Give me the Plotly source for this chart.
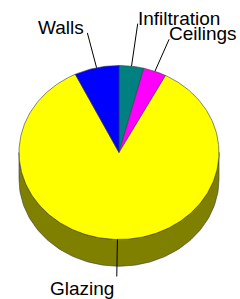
import numpy as np
import plotly.graph_objects as go

categories = ["Infiltration", "Ceilings", "Glazing", "Walls"]
values = [4.0, 3.7, 85.1, 7.2]
top_colors = ["#008080", "#FF00FF", "#FFFF00", "#0000FF"]
side_colors = ["#004040", "#800080", "#808000", "#000080"]
leader_len_px = [43, 35, 37, 36]

W, H = 240, 299
SCALE = 100.0          # pixels per unit
CX_PX, CY_PX = 119, 152.5
RY = 0.87              # ellipse vertical ratio (tilt)
DEPTH = 0.267          # thickness
EDGE = "#3a3a3a"

total = float(sum(values))
bounds = np.concatenate([[0.0], np.cumsum(values)]) / total * 2 * np.pi


def ex(t):
    return np.sin(t)


def ey(t):
    return RY * np.cos(t)


fig = go.Figure()

# side walls (front half, pi/2 .. 3pi/2)
for i, cat in enumerate(categories):
    a0 = max(bounds[i], np.pi / 2)
    a1 = min(bounds[i + 1], 3 * np.pi / 2)
    if a1 <= a0:
        continue
    t = np.linspace(a0, a1, 120)
    xs = np.concatenate([ex(t), ex(t[::-1])])
    ys = np.concatenate([ey(t), ey(t[::-1]) - DEPTH])
    fig.add_trace(go.Scatter(x=np.append(xs, xs[0]), y=np.append(ys, ys[0]),
                             mode="lines", fill="toself", fillcolor=side_colors[i],
                             line=dict(color=EDGE, width=0.6), hoverinfo="skip",
                             showlegend=False))

# top face slices
for i, cat in enumerate(categories):
    n = max(int((bounds[i + 1] - bounds[i]) / (2 * np.pi) * 400), 8)
    t = np.linspace(bounds[i], bounds[i + 1], n)
    xs = np.concatenate([[0.0], ex(t), [0.0]])
    ys = np.concatenate([[0.0], ey(t), [0.0]])
    fig.add_trace(go.Scatter(x=xs, y=ys, mode="lines", fill="toself",
                             fillcolor=top_colors[i],
                             line=dict(color=EDGE, width=0.6),
                             name=cat, hoverinfo="name", showlegend=False))

# leader lines and labels
for i, cat in enumerate(categories):
    m = (bounds[i] + bounds[i + 1]) / 2
    sx, sy = ex(m), ey(m)
    d = np.hypot(sx, sy)
    L = leader_len_px[i] / SCALE
    tx, ty = sx + sx / d * L, sy + sy / d * L
    fig.add_trace(go.Scatter(x=[sx, tx], y=[sy, ty], mode="lines",
                             line=dict(color="#000000", width=1),
                             hoverinfo="skip", showlegend=False))
    left = tx < 0
    top = ty > 0
    fig.add_annotation(x=tx, y=ty, xref="x", yref="y", text=cat, showarrow=False,
                       xanchor="right" if left else "left",
                       yanchor="bottom" if top else "top",
                       xshift=-1 if left else -2,
                       yshift=-7 if top else 0,
                       font=dict(family="Liberation Sans, Arial, sans-serif",
                                 size=19, color="#000000"))

fig.update_layout(
    width=W, height=H, autosize=False,
    margin=dict(l=0, r=0, t=0, b=0),
    paper_bgcolor="white", plot_bgcolor="white",
    xaxis=dict(range=[-CX_PX / SCALE, (W - CX_PX) / SCALE], visible=False,
               fixedrange=True),
    yaxis=dict(range=[-(H - CY_PX) / SCALE, CY_PX / SCALE], visible=False,
               fixedrange=True),
)

fig.write_html("out.html", config={"displayModeBar": False},
               post_script="document.body.style.margin='0';document.body.style.overflow='hidden';")
